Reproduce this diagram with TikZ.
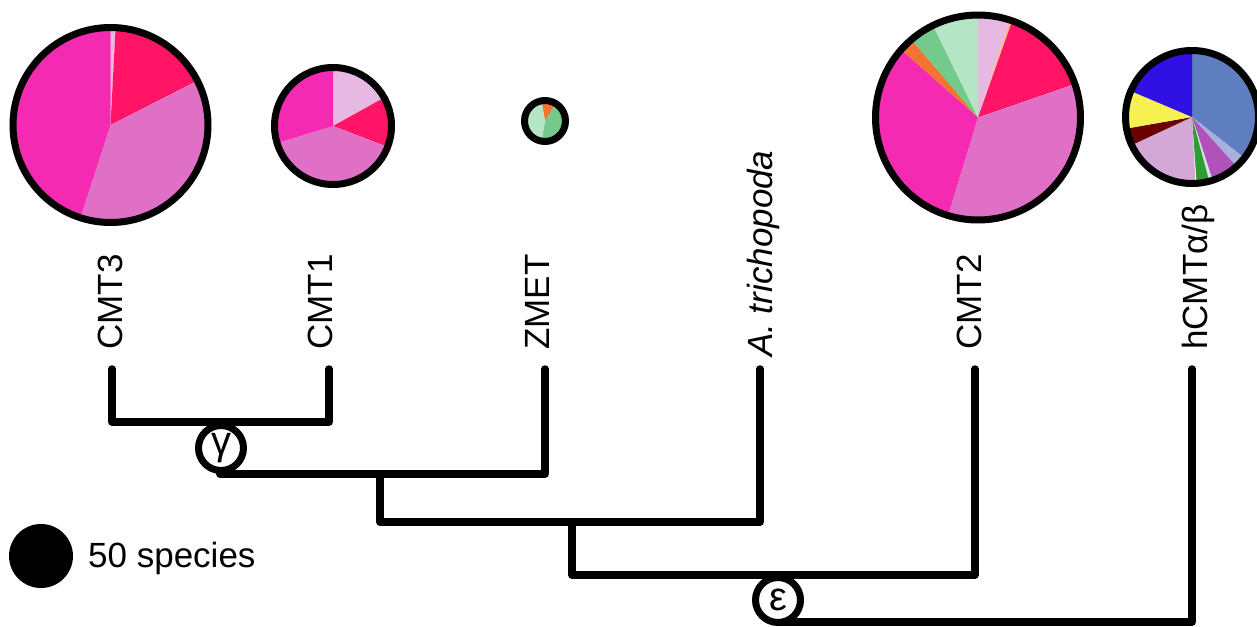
\documentclass[tikz,border=0pt]{standalone}
\usepackage{fontspec}
\setmainfont{Liberation Sans}

% slice colours
\definecolor{hotpink}{HTML}{F52AB2}
\definecolor{orchidp}{HTML}{E070C6}
\definecolor{rosered}{HTML}{FF1466}
\definecolor{palepink}{HTML}{E6B8E2}
\definecolor{orangep}{HTML}{F57332}
\definecolor{midgreen}{HTML}{74CA8A}
\definecolor{palegreen}{HTML}{B4E6C6}
\definecolor{peach}{HTML}{F8B890}
\definecolor{steelb}{HTML}{5E7EC0}
\definecolor{lavblue}{HTML}{A8B0DE}
\definecolor{purplep}{HTML}{B052BA}
\definecolor{paleslate}{HTML}{D8E0E8}
\definecolor{grassgreen}{HTML}{2E9E32}
\definecolor{thistlep}{HTML}{D4A8D6}
\definecolor{darkredp}{HTML}{6A0000}
\definecolor{yellowp}{HTML}{F6F050}
\definecolor{royalb}{HTML}{3010E2}

\tikzset{
  tree/.style={line width=7.5pt, line cap=round, line join=round, draw=black},
  ring/.style={line width=7pt, draw=black},
  leaf/.style={rotate=90, anchor=base west, inner sep=0pt, font=\fontsize{35}{40}\selectfont},
  clade/.style={circle, draw=black, fill=white, line width=7pt, minimum size=45pt,
                inner sep=0pt, font=\fontsize{40}{44}\selectfont},
}

% pie slice: centre, radius, start and end angle (clockwise from the top), colour
\newcommand\pieslice[5]{%
  \fill[#5] (#1) -- ++({90-#3}:#2) arc[start angle={90-#3}, end angle={90-#4}, radius=#2] -- cycle;}

\begin{document}
\begin{tikzpicture}[x=1pt,y=1pt]
\useasboundingbox (0,0) rectangle (1257,-626);

% ---------- tree ----------
\coordinate (t3) at (112,-369);
\coordinate (t1) at (329,-369);
\coordinate (tz) at (545,-369);
\coordinate (ta) at (760,-369);
\coordinate (t2) at (975,-369);
\coordinate (th) at (1192,-369);
\coordinate (j1) at (220,-422);
\coordinate (j1b) at (220,-474);
\coordinate (j2) at (380,-474);
\coordinate (j2b) at (380,-522);
\coordinate (j3) at (572,-522);
\coordinate (j3b) at (572,-575);
\coordinate (j4) at (778,-575);
\coordinate (j4b) at (778,-622);

\draw[tree] (t3) |- (j1) -| (t1);
\draw[tree] (j1) -- (j1b) -| (tz);
\draw[tree] (j2) -- (j2b) -| (ta);
\draw[tree] (j3) -- (j3b) -| (t2);
\draw[tree] (j4) -- (j4b) -| (th);

\node[clade] (gamma) at (221,-448) {γ};
\node[clade] (eps) at (778,-600) {ε};

% ---------- leaf labels ----------
\node[leaf] (lcmt3) at (122.5,-350) {CMT3};
\node[leaf] (lcmt1) at (332.5,-350) {CMT1};
\node[leaf] (lzmet) at (549.5,-350) {ZMET};
\node[leaf] (latr) at (772.5,-357) {\itshape A. trichopoda};
\node[leaf] (lcmt2) at (981.5,-350) {CMT2};
\node[leaf] (lhcmt) at (1207,-350) {hCMTα/β};

% ---------- pies ----------
% CMT3
\coordinate (pie3) at (110.5,-125);
\pieslice{pie3}{97.5pt}{0}{3}{palepink}
\pieslice{pie3}{97.5pt}{3}{63}{rosered}
\pieslice{pie3}{97.5pt}{63}{198}{orchidp}
\pieslice{pie3}{97.5pt}{198}{360}{hotpink}
\draw[ring] (pie3) circle[radius=97.5pt];

% CMT1
\coordinate (pie1) at (333,-126);
\pieslice{pie1}{58.5pt}{0}{61}{palepink}
\pieslice{pie1}{58.5pt}{61}{111}{rosered}
\pieslice{pie1}{58.5pt}{111}{253}{orchidp}
\pieslice{pie1}{58.5pt}{253}{360}{hotpink}
\draw[ring] (pie1) circle[radius=58.5pt];

% ZMET
\coordinate (piez) at (545,-121);
\pieslice{piez}{20.5pt}{-10}{32}{orangep}
\pieslice{piez}{20.5pt}{32}{190}{midgreen}
\pieslice{piez}{20.5pt}{190}{350}{palegreen}
\draw[ring] (piez) circle[radius=20.5pt];

% CMT2
\coordinate (pie2) at (978,-117.5);
\pieslice{pie2}{102.5pt}{0}{18}{palepink}
\pieslice{pie2}{102.5pt}{18}{19.5}{peach}
\pieslice{pie2}{102.5pt}{19.5}{71}{rosered}
\pieslice{pie2}{102.5pt}{71}{197}{orchidp}
\pieslice{pie2}{102.5pt}{197}{311.5}{hotpink}
\pieslice{pie2}{102.5pt}{311.5}{319.5}{orangep}
\pieslice{pie2}{102.5pt}{319.5}{334}{midgreen}
\pieslice{pie2}{102.5pt}{334}{360}{palegreen}
\draw[ring] (pie2) circle[radius=102.5pt];

% hCMT alpha/beta
\coordinate (pieh) at (1192,-117);
\pieslice{pieh}{66.5pt}{0}{128}{steelb}
\pieslice{pieh}{66.5pt}{128}{138}{lavblue}
\pieslice{pieh}{66.5pt}{138}{162}{purplep}
\pieslice{pieh}{66.5pt}{162}{165}{paleslate}
\pieslice{pieh}{66.5pt}{165}{176}{grassgreen}
\pieslice{pieh}{66.5pt}{177}{245}{thistlep}
\pieslice{pieh}{66.5pt}{245}{260}{darkredp}
\pieslice{pieh}{66.5pt}{260}{293}{yellowp}
\pieslice{pieh}{66.5pt}{293}{360}{royalb}
\draw[ring] (pieh) circle[radius=66.5pt];

% ---------- legend ----------
\node[circle, fill=black, minimum size=64pt, inner sep=0pt] (legdot) at (41,-556) {};
\node[anchor=base west, inner sep=0pt, font=\fontsize{35}{40}\selectfont] (legtext) at (88,-567) {50 species};
\end{tikzpicture}
\end{document}
